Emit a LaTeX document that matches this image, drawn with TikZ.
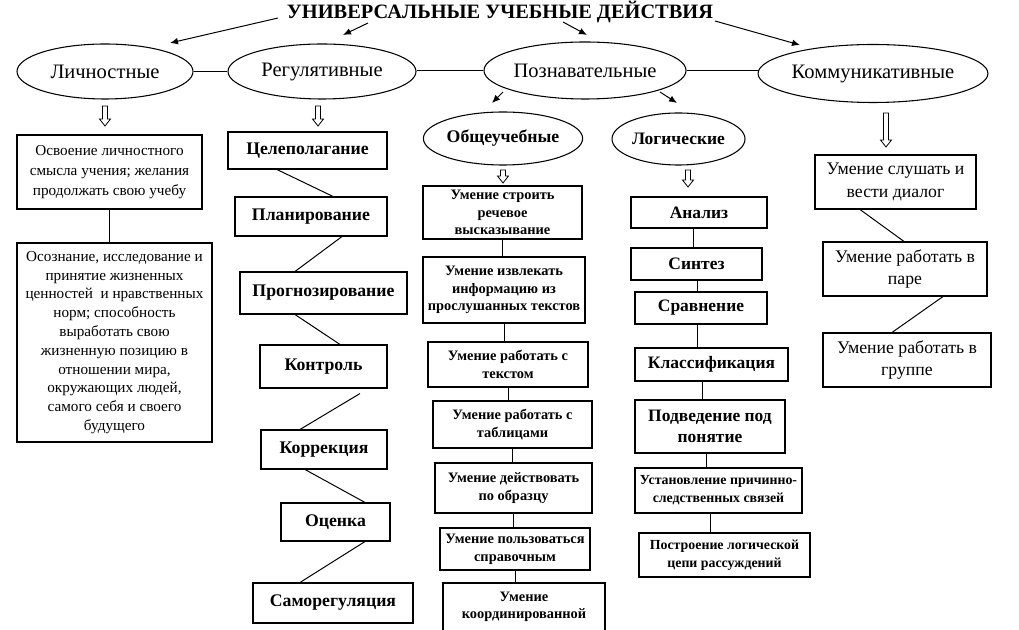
\documentclass[tikz,border=0pt]{standalone}
\usepackage{fontspec}
\setmainfont{Liberation Serif}
\usetikzlibrary{calc,shapes.geometric,arrows.meta}
\tikzset{
  box/.style={draw, line width=0.8pt, inner sep=0pt, align=center},
  rb/.style n args={4}{box, minimum width={(#3-#1)*0.75pt}, minimum height={(#4-#2)*0.75pt}, at={({(#1+#3)/2},{(#2+#4)/2})}},
  ell/.style={draw, ellipse, line width=0.8pt, inner sep=0pt},
  link/.style={line width=0.75pt},
  arr/.style={line width=0.75pt, -{Latex[length=6pt,width=5pt]}},
  ftitle/.style={font=\fontsize{15.3}{18}\selectfont\bfseries},
  fmain/.style={font=\fontsize{15.4}{18}\selectfont},
  fsub/.style={font=\fontsize{13.3}{16}\selectfont\bfseries},
  freg/.style={font=\fontsize{13.3}{16}\selectfont\bfseries},
  flog/.style={font=\fontsize{13.1}{16}\selectfont\bfseries},
  fsmall/.style={font=\fontsize{10.8}{13.3}\selectfont\bfseries},
  fsmallb/.style={font=\fontsize{10.4}{13.3}\selectfont\bfseries},
  flich/.style={font=\fontsize{11.4}{15}\selectfont},
  flichb/.style={font=\fontsize{11.4}{14.1}\selectfont},
  fkom/.style={font=\fontsize{13.3}{17}\selectfont},
  hollow/.pic={\draw[line width=0.6pt] (-2.5,0) -- (2.5,0) -- (2.5,{#1-7}) -- (5.5,{#1-7}) -- (0,#1) -- (-5.5,{#1-7}) -- (-2.5,{#1-7}) -- cycle;}
}
\begin{document}
\begin{tikzpicture}[x=0.75pt,y=-0.75pt]
\useasboundingbox (0,0) rectangle (1019,630);
\clip (0,0) rectangle (1019,630);
\fill[white] (0,0) rectangle (1019,630);

% title
\node[ftitle] (title) at (500,11.5) {УНИВЕРСАЛЬНЫЕ УЧЕБНЫЕ ДЕЙСТВИЯ};

% main ellipses
\node[ell, fmain, minimum width=176*0.75pt, minimum height=55*0.75pt] (lich) at (105,71.5) {Личностные};
\node[ell, fmain, minimum width=188*0.75pt, minimum height=55*0.75pt] (reg) at (322,71.5) {Регулятивные};
\node[ell, fmain, minimum width=196*0.75pt, minimum height=57*0.75pt] (pozn) at (585,70.5) {Познавательные};
\node[ell, fmain, minimum width=228*0.75pt, minimum height=58*0.75pt] (komm) at (873,73.5) {Коммуникативные};
\node[ell, fsub, minimum width=159*0.75pt, minimum height=53*0.75pt] (obsh) at (503,138.5) {Общеучебные};
\node[ell, flog, minimum width=133*0.75pt, minimum height=52*0.75pt] (logi) at (678.5,139) {Логические};

\draw[link] (lich.east) -- (lich.east -| reg.west);
\draw[link] ($(reg.east)+(0,-1)$) -- ($(pozn.west)+(0,0)$);
\draw[link] (pozn.east) -- (pozn.east -| komm.west);

% arrows from title
\coordinate (t1s) at (278,18); \coordinate (t1e) at (170,43);
\coordinate (t2s) at (368,23); \coordinate (t2e) at (343,35);
\coordinate (t3s) at (563,22); \coordinate (t3e) at (587,35);
\coordinate (t4s) at (715,21); \coordinate (t4e) at (800,45);
\coordinate (p1s) at (503,92); \coordinate (p1e) at (492,103);
\coordinate (p2s) at (660,92); \coordinate (p2e) at (677,103);
\draw[arr] (t1s) -- (t1e);
\draw[arr] (t2s) -- (t2e);
\draw[arr] (t3s) -- (t3e);
\draw[arr] (t4s) -- (t4e);
\draw[arr] (p1s) -- (p1e);
\draw[arr] (p2s) -- (p2e);

% hollow arrows
\pic at (105,106) {hollow=20};
\pic at (318,106) {hollow=20};
\pic at (503,170) {hollow=13};
\pic at (688,170) {hollow=17};
\pic at (886,113) {hollow=34};

% Личностные
\node[rb={17}{135}{202}{209}, flich] (l1) {Освоение личностного\\смысла учения; желания\\продолжать свою учебу};
\node[rb={17}{243}{212}{442}, flichb] (l2) {Осознание, исследование и\\принятие жизненных\\ценностей~ и нравственных\\норм; способность\\выработать свою\\жизненную позицию в\\отношении мира,\\окружающих людей,\\самого себя и своего\\будущего};
\draw[link] (l1.south) -- (l1.south |- l2.north);

% Регулятивные
\node[rb={228}{132}{387}{169}, freg] (cel) {Целеполагание};
\node[rb={235}{197}{387}{236}, freg] (plan) {Планирование};
\node[rb={240}{272}{407}{314}, freg] (prog) {Прогнозирование};
\node[rb={260}{345}{387}{388}, freg] (kontr) {Контроль};
\node[rb={261}{430}{387}{469}, freg] (korr) {Коррекция};
\node[rb={281}{503}{390}{541}, freg] (otsen) {Оценка};
\node[rb={253}{583}{413}{623}, freg] (samo) {Саморегуляция};
\draw[link] ($(cel.south)+(-30.5,0)$) -- ($(plan.north)+(22,0)$);
\draw[link] ($(plan.south)+(31,0)$) -- ($(prog.north)+(-28.5,0)$);
\draw[link] ($(prog.south)+(-28.5,0)$) -- ($(kontr.north)+(16.5,0)$);
\draw[link] ($(kontr.south)+(36.5,5)$) -- ($(korr.north)+(-24,0)$);
\draw[link] ($(korr.south)+(-19,0)$) -- ($(otsen.north)+(29.5,0)$);
\draw[link] ($(otsen.south)+(29.5,0)$) -- ($(samo.north)+(-33,0)$);

% Общеучебные
\node[rb={423}{186}{582}{239}, fsmall] (o1) {Умение строить\\речевое\\высказывание};
\node[rb={423}{257}{585}{323}, fsmall] (o2) {Умение извлекать\\информацию из\\прослушанных текстов};
\node[rb={428}{342}{588}{387}, fsmall] (o3) {Умение работать с\\текстом};
\node[rb={433}{401}{592}{448}, fsmall] (o4) {Умение работать с\\таблицами};
\node[rb={435}{463}{592}{513}, fsmall] (o5) {Умение действовать\\по образцу};
\node[rb={440}{528}{590}{570}, fsmall] (o6) {Умение пользоваться\\справочным};
\node[rb={443}{583}{605}{680}] (o7) {};
\node[fsmall, align=center, anchor=north, inner sep=0pt] (o7t) at ($(o7.north)+(0,9)$) {Умение\\координированной};
\draw[link] (o1.south) -- (o1.south |- o2.north);
\draw[link] (o2.south) -- (o2.south |- o3.north);
\draw[link] (o3.south) -- (o3.south |- o4.north);
\draw[link] (o4.south) -- (o4.south |- o5.north);
\draw[link] (o5.south) -- (o5.south |- o6.north);
\draw[link] (o6.south) -- (o6.south |- o7.north);

% Логические
\node[rb={631}{197}{767}{228}, flog] (an) {Анализ};
\node[rb={631}{248}{762}{280}, flog] (sin) {Синтез};
\node[rb={635}{292}{767}{324}, flog] (srav) {Сравнение};
\node[rb={635}{348}{788}{381}, flog] (klass) {Классификация};
\node[rb={635}{400}{785}{453}, flog] (podv) {Подведение под\\понятие};
\node[rb={635}{468}{802}{513}, fsmallb] (ust) {Установление причинно-\\следственных связей};
\node[rb={639}{533}{810}{577}, fsmallb] (postr) {Построение логической\\цепи рассуждений};
\draw[link] ($(an.south)+(-6,0)$) -- ($(sin.north)+(-3.5,0)$);
\draw[link] ($(sin.south)+(0.5,0)$) -- ($(srav.north)+(-4,0)$);
\draw[link] ($(srav.south)+(-4,0)$) -- ($(klass.north)+(-14.5,0)$);
\draw[link] ($(klass.south)+(-9.5,0)$) -- ($(podv.north)+(-8,0)$);
\draw[link] ($(podv.south)+(-4,0)$) -- ($(ust.north)+(-12.5,0)$);
\draw[link] ($(ust.south)+(-8.5,0)$) -- ($(postr.north)+(-14.5,0)$);

% Коммуникативные
\node[rb={815}{155}{976}{209}, fkom] (k1) {Умение слушать и\\вести диалог};
\node[rb={823}{242}{987}{296}, fkom] (k2) {Умение работать в\\паре};
\node[rb={823}{333}{991}{387}, fkom] (k3) {Умение работать в\\группе};
\draw[link] ($(k1.south)+(-35.5,0)$) -- ($(k2.north)+(-1,0)$);
\draw[link] ($(k2.south)+(38,0)$) -- ($(k3.north)+(-15,0)$);
\end{tikzpicture}
\end{document}
